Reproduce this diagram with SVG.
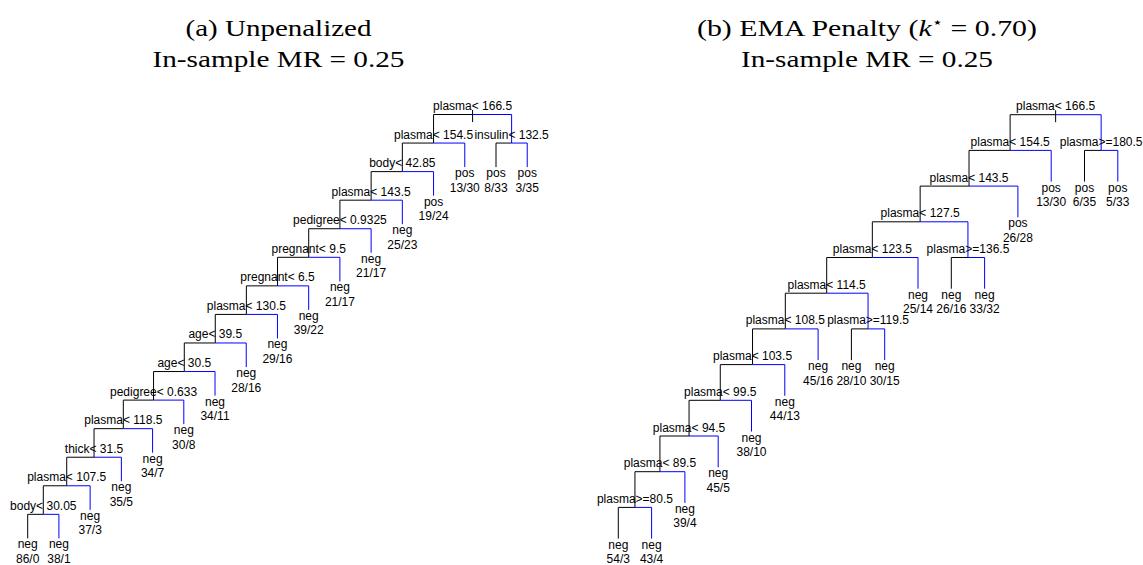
<svg xmlns="http://www.w3.org/2000/svg" width="1143" height="565" viewBox="0 0 1143 565">
<style>
.t{font-family:"Liberation Serif","Times New Roman",serif;font-size:23px;fill:#000;text-anchor:middle}
.s{font-family:"Liberation Sans",Arial,Helvetica,sans-serif;font-size:12px;fill:#000;text-anchor:middle}
.k{fill:none;stroke:#000;stroke-width:1}
.b{fill:none;stroke:#0000ff;stroke-width:1}
</style>
<rect width="1143" height="565" fill="#fff"/>
<g id="titles">
<text class="t" x="278.5" y="36" textLength="186" lengthAdjust="spacingAndGlyphs">(a) Unpenalized</text>
<text class="t" x="278.5" y="67" textLength="252" lengthAdjust="spacingAndGlyphs">In-sample MR = 0.25</text>
<text class="t" x="867" y="36" textLength="340" lengthAdjust="spacingAndGlyphs">(b) EMA Penalty (<tspan font-style="italic">k</tspan><tspan dy="-9" font-size="14" font-family="DejaVu Sans,sans-serif">⋆</tspan><tspan dy="9"> = 0.70)</tspan></text>
<text class="t" x="867" y="67" textLength="252" lengthAdjust="spacingAndGlyphs">In-sample MR = 0.25</text>
</g>
<g id="connectors">
<!-- left tree -->
<path class="k" d="M472.59,110V122"/>
<path class="k" d="M433.56,143.06V114.5H472.59"/><path class="b" d="M472.59,114.5H511.61V143.06"/>
<path class="k" d="M402.35,171.62V143.06H433.56"/><path class="b" d="M433.56,143.06H464.78V167.12"/>
<path class="k" d="M496,167.12V143.06H511.61"/><path class="b" d="M511.61,143.06H527.22V167.12"/>
<path class="k" d="M371.13,200.18V171.62H402.35"/><path class="b" d="M402.35,171.62H433.56V195.68"/>
<path class="k" d="M339.92,228.74V200.18H371.13"/><path class="b" d="M371.13,200.18H402.34V224.24"/>
<path class="k" d="M308.71,257.3V228.74H339.92"/><path class="b" d="M339.92,228.74H371.12V252.8"/>
<path class="k" d="M277.52,285.86V257.3H308.71"/><path class="b" d="M308.71,257.3H339.9V281.36"/>
<path class="k" d="M246.36,314.42V285.86H277.52"/><path class="b" d="M277.52,285.86H308.68V309.92"/>
<path class="k" d="M215.27,342.98V314.42H246.36"/><path class="b" d="M246.36,314.42H277.46V338.48"/>
<path class="k" d="M184.29,371.54V342.98H215.27"/><path class="b" d="M215.27,342.98H246.24V367.04"/>
<path class="k" d="M153.56,400.1V371.54H184.29"/><path class="b" d="M184.29,371.54H215.02V395.6"/>
<path class="k" d="M123.31,428.66V400.1H153.56"/><path class="b" d="M153.56,400.1H183.8V424.16"/>
<path class="k" d="M94.04,457.22V428.66H123.31"/><path class="b" d="M123.31,428.66H152.58V452.72"/>
<path class="k" d="M66.73,485.78V457.22H94.04"/><path class="b" d="M94.04,457.22H121.36V481.28"/>
<path class="k" d="M43.31,514.34V485.78H66.73"/><path class="b" d="M66.73,485.78H90.14V509.84"/>
<path class="k" d="M27.7,538.4V514.34H43.31"/><path class="b" d="M43.31,514.34H58.92V538.4"/>
<!-- right tree -->
<path class="k" d="M1055.63,110.2V122.2"/>
<path class="k" d="M1010.11,150.4V114.7H1055.63"/><path class="b" d="M1055.63,114.7H1101.15V150.4"/>
<path class="k" d="M969.02,186.1V150.4H1010.11"/><path class="b" d="M1010.11,150.4H1051.2V181.6"/>
<path class="k" d="M1084.5,181.6V150.4H1101.15"/><path class="b" d="M1101.15,150.4H1117.8V181.6"/>
<path class="k" d="M920.15,221.8V186.1H969.02"/><path class="b" d="M969.02,186.1H1017.9V217.3"/>
<path class="k" d="M872.34,257.5V221.8H920.15"/><path class="b" d="M920.15,221.8H967.95V257.5"/>
<path class="k" d="M826.69,293.2V257.5H872.34"/><path class="b" d="M872.34,257.5H918V288.7"/>
<path class="k" d="M951.3,288.7V257.5H967.95"/><path class="b" d="M967.95,257.5H984.6V288.7"/>
<path class="k" d="M785.32,328.9V293.2H826.69"/><path class="b" d="M826.69,293.2H868.05V328.9"/>
<path class="k" d="M752.54,364.6V328.9H785.32"/><path class="b" d="M785.32,328.9H818.1V360.1"/>
<path class="k" d="M851.4,360.1V328.9H868.05"/><path class="b" d="M868.05,328.9H884.7V360.1"/>
<path class="k" d="M720.28,400.3V364.6H752.54"/><path class="b" d="M752.54,364.6H784.8V395.8"/>
<path class="k" d="M689.06,436V400.3H720.28"/><path class="b" d="M720.28,400.3H751.5V431.5"/>
<path class="k" d="M659.93,471.7V436H689.06"/><path class="b" d="M689.06,436H718.2V467.2"/>
<path class="k" d="M634.95,507.4V471.7H659.93"/><path class="b" d="M659.93,471.7H684.9V502.9"/>
<path class="k" d="M618.3,538.6V507.4H634.95"/><path class="b" d="M634.95,507.4H651.6V538.6"/>
</g>
<g id="left-nodes">
<g id="L0"><text class="s" x="472.59" y="110">plasma&lt; 166.5</text></g>
<g id="L1"><text class="s" x="433.56" y="138.56">plasma&lt; 154.5</text></g>
<g id="L1b"><text class="s" x="511.61" y="138.56">insulin&lt; 132.5</text></g>
<g id="L2"><text class="s" x="402.35" y="167.12">body&lt; 42.85</text></g>
<g id="L3"><text class="s" x="371.13" y="195.68">plasma&lt; 143.5</text></g>
<g id="L4"><text class="s" x="339.92" y="224.24">pedigree&lt; 0.9325</text></g>
<g id="L5"><text class="s" x="308.71" y="252.8">pregnant&lt; 9.5</text></g>
<g id="L6"><text class="s" x="277.52" y="281.36">pregnant&lt; 6.5</text></g>
<g id="L7"><text class="s" x="246.36" y="309.92">plasma&lt; 130.5</text></g>
<g id="L8"><text class="s" x="215.27" y="338.48">age&lt; 39.5</text></g>
<g id="L9"><text class="s" x="184.29" y="367.04">age&lt; 30.5</text></g>
<g id="L10"><text class="s" x="153.56" y="395.6">pedigree&lt; 0.633</text></g>
<g id="L11"><text class="s" x="123.31" y="424.16">plasma&lt; 118.5</text></g>
<g id="L12"><text class="s" x="94.04" y="452.72">thick&lt; 31.5</text></g>
<g id="L13"><text class="s" x="66.73" y="481.28">plasma&lt; 107.5</text></g>
<g id="L14"><text class="s" x="43.31" y="509.84">body&lt; 30.05</text></g>
<g id="Lf0"><text class="s" x="27.7" y="548.4">neg</text><text class="s" x="27.7" y="562.9">86/0</text></g>
<g id="Lf1"><text class="s" x="58.92" y="548.4">neg</text><text class="s" x="58.92" y="562.9">38/1</text></g>
<g id="Lf2"><text class="s" x="90.14" y="519.84">neg</text><text class="s" x="90.14" y="534.34">37/3</text></g>
<g id="Lf3"><text class="s" x="121.36" y="491.28">neg</text><text class="s" x="121.36" y="505.78">35/5</text></g>
<g id="Lf4"><text class="s" x="152.58" y="462.72">neg</text><text class="s" x="152.58" y="477.22">34/7</text></g>
<g id="Lf5"><text class="s" x="183.8" y="434.16">neg</text><text class="s" x="183.8" y="448.66">30/8</text></g>
<g id="Lf6"><text class="s" x="215.02" y="405.6">neg</text><text class="s" x="215.02" y="420.1">34/11</text></g>
<g id="Lf7"><text class="s" x="246.24" y="377.04">neg</text><text class="s" x="246.24" y="391.54">28/16</text></g>
<g id="Lf8"><text class="s" x="277.46" y="348.48">neg</text><text class="s" x="277.46" y="362.98">29/16</text></g>
<g id="Lf9"><text class="s" x="308.68" y="319.92">neg</text><text class="s" x="308.68" y="334.42">39/22</text></g>
<g id="Lf10"><text class="s" x="339.9" y="291.36">neg</text><text class="s" x="339.9" y="305.86">21/17</text></g>
<g id="Lf11"><text class="s" x="371.12" y="262.8">neg</text><text class="s" x="371.12" y="277.3">21/17</text></g>
<g id="Lf12"><text class="s" x="402.34" y="234.24">neg</text><text class="s" x="402.34" y="248.74">25/23</text></g>
<g id="Lf13"><text class="s" x="433.56" y="205.68">pos</text><text class="s" x="433.56" y="220.18">19/24</text></g>
<g id="Lf14"><text class="s" x="464.78" y="177.12">pos</text><text class="s" x="464.78" y="191.62">13/30</text></g>
<g id="Lf15"><text class="s" x="496" y="177.12">pos</text><text class="s" x="496" y="191.62">8/33</text></g>
<g id="Lf16"><text class="s" x="527.22" y="177.12">pos</text><text class="s" x="527.22" y="191.62">3/35</text></g>
</g>
<g id="right-nodes">
<g id="R0"><text class="s" x="1055.63" y="110.2">plasma&lt; 166.5</text></g>
<g id="R1a"><text class="s" x="1010.11" y="145.9">plasma&lt; 154.5</text></g>
<g id="R1b"><text class="s" x="1101.15" y="145.9">plasma&gt;=180.5</text></g>
<g id="R2"><text class="s" x="969.02" y="181.6">plasma&lt; 143.5</text></g>
<g id="R3"><text class="s" x="920.15" y="217.3">plasma&lt; 127.5</text></g>
<g id="R4a"><text class="s" x="872.34" y="253">plasma&lt; 123.5</text></g>
<g id="R4b"><text class="s" x="967.95" y="253">plasma&gt;=136.5</text></g>
<g id="R5"><text class="s" x="826.69" y="288.7">plasma&lt; 114.5</text></g>
<g id="R6a"><text class="s" x="785.32" y="324.4">plasma&lt; 108.5</text></g>
<g id="R6b"><text class="s" x="868.05" y="324.4">plasma&gt;=119.5</text></g>
<g id="R7"><text class="s" x="752.54" y="360.1">plasma&lt; 103.5</text></g>
<g id="R8"><text class="s" x="720.28" y="395.8">plasma&lt; 99.5</text></g>
<g id="R9"><text class="s" x="689.06" y="431.5">plasma&lt; 94.5</text></g>
<g id="R10"><text class="s" x="659.93" y="467.2">plasma&lt; 89.5</text></g>
<g id="R11"><text class="s" x="634.95" y="502.9">plasma&gt;=80.5</text></g>
<g id="Rf0"><text class="s" x="618.3" y="548.6">neg</text><text class="s" x="618.3" y="563.1">54/3</text></g>
<g id="Rf1"><text class="s" x="651.6" y="548.6">neg</text><text class="s" x="651.6" y="563.1">43/4</text></g>
<g id="Rf2"><text class="s" x="684.9" y="512.9">neg</text><text class="s" x="684.9" y="527.4">39/4</text></g>
<g id="Rf3"><text class="s" x="718.2" y="477.2">neg</text><text class="s" x="718.2" y="491.7">45/5</text></g>
<g id="Rf4"><text class="s" x="751.5" y="441.5">neg</text><text class="s" x="751.5" y="456">38/10</text></g>
<g id="Rf5"><text class="s" x="784.8" y="405.8">neg</text><text class="s" x="784.8" y="420.3">44/13</text></g>
<g id="Rf6"><text class="s" x="818.1" y="370.1">neg</text><text class="s" x="818.1" y="384.6">45/16</text></g>
<g id="Rf7"><text class="s" x="851.4" y="370.1">neg</text><text class="s" x="851.4" y="384.6">28/10</text></g>
<g id="Rf8"><text class="s" x="884.7" y="370.1">neg</text><text class="s" x="884.7" y="384.6">30/15</text></g>
<g id="Rf9"><text class="s" x="918" y="298.7">neg</text><text class="s" x="918" y="313.2">25/14</text></g>
<g id="Rf10"><text class="s" x="951.3" y="298.7">neg</text><text class="s" x="951.3" y="313.2">26/16</text></g>
<g id="Rf11"><text class="s" x="984.6" y="298.7">neg</text><text class="s" x="984.6" y="313.2">33/32</text></g>
<g id="Rf12"><text class="s" x="1017.9" y="227.3">pos</text><text class="s" x="1017.9" y="241.8">26/28</text></g>
<g id="Rf13"><text class="s" x="1051.2" y="191.6">pos</text><text class="s" x="1051.2" y="206.1">13/30</text></g>
<g id="Rf14"><text class="s" x="1084.5" y="191.6">pos</text><text class="s" x="1084.5" y="206.1">6/35</text></g>
<g id="Rf15"><text class="s" x="1117.8" y="191.6">pos</text><text class="s" x="1117.8" y="206.1">5/33</text></g>
</g>
</svg>
